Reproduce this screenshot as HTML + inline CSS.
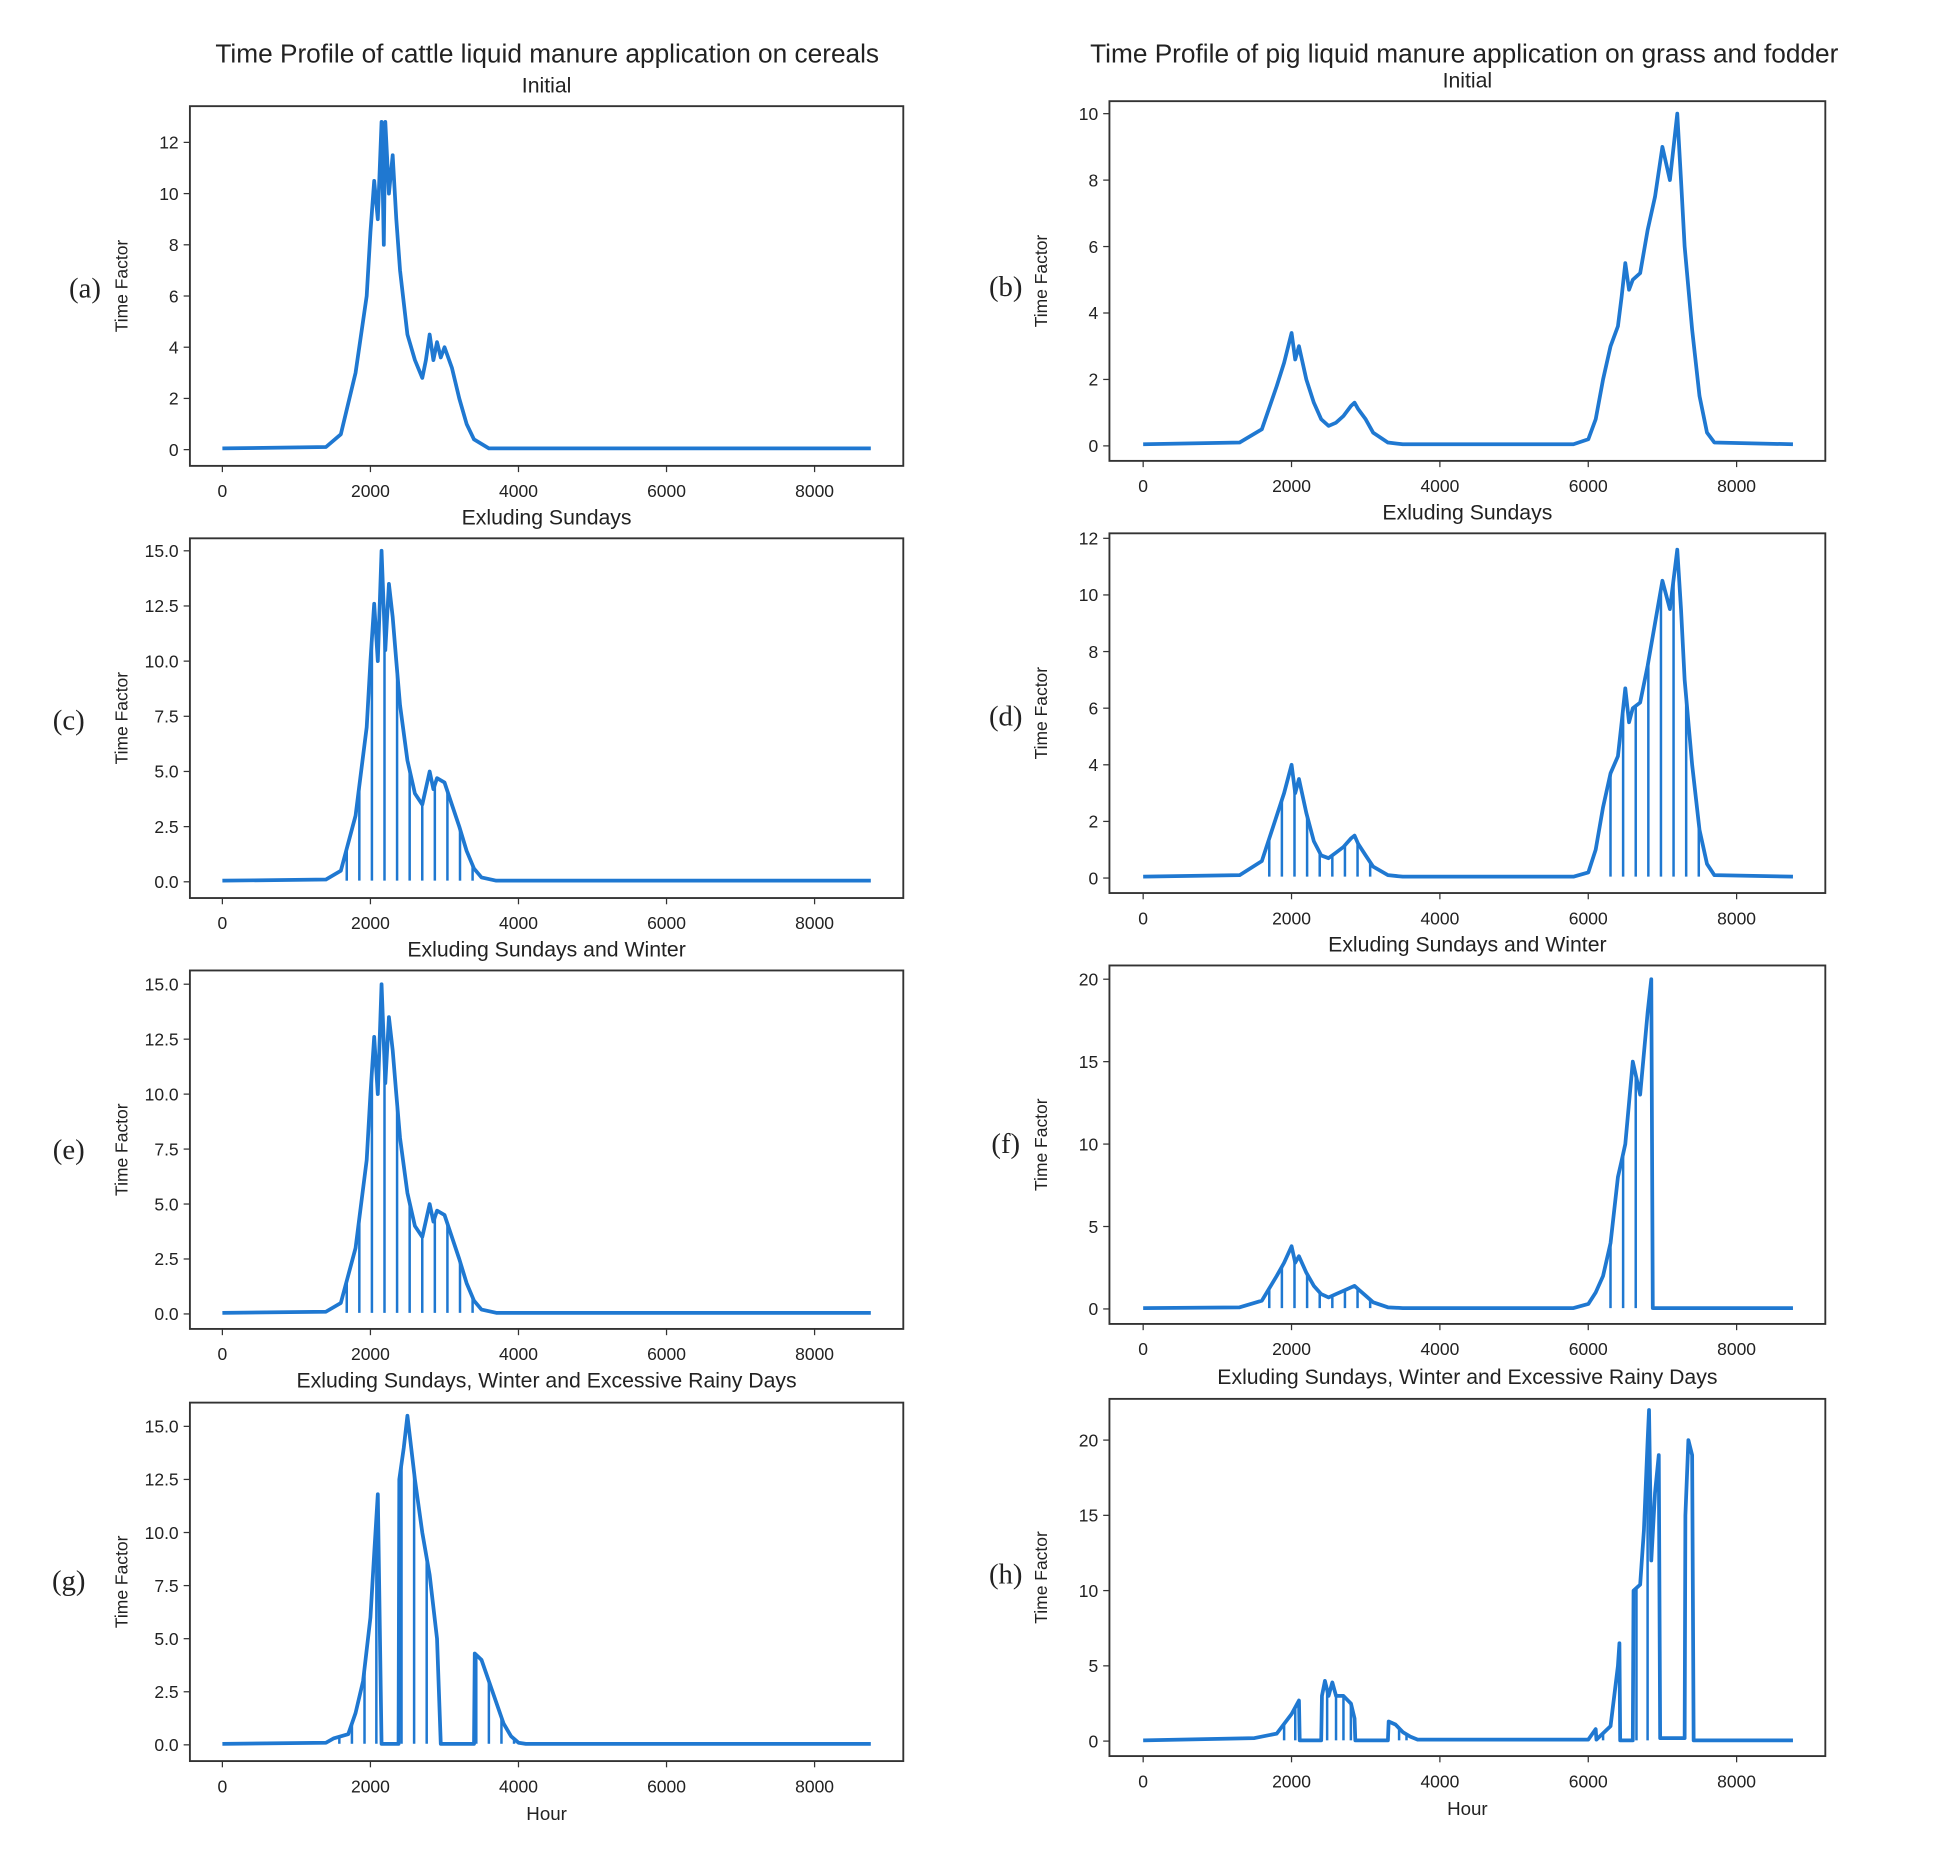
<!DOCTYPE html>
<html><head><meta charset="utf-8"><style>
html,body{margin:0;padding:0;background:#fff;}
svg{display:block;}
text{font-family:"Liberation Sans","DejaVu Sans",sans-serif;fill:#222;}
</style></head><body>
<svg id="fig" width="1959" height="1861" viewBox="0 0 1568 1490" preserveAspectRatio="none" xmlns="http://www.w3.org/2000/svg">
<rect x="0" y="0" width="1568" height="1490" fill="#fff"/>
<text x="438" y="50" text-anchor="middle" font-size="21">Time Profile of cattle liquid manure application on cereals</text>
<text x="1172" y="50" text-anchor="middle" font-size="21">Time Profile of pig liquid manure application on grass and fodder</text>
</svg>
<script>
// ---- data (hour, value) ----
const xTickValues = [0, 2000, 4000, 6000, 8000];
const hoursA = [0,1400,1600,1800,1950,2000,2050,2100,2150,2180,2200,2250,2300,2350,2400,2500,2600,2700,2750,2800,2850,2900,2950,3000,3100,3200,3300,3400,3600,8760];
const valsA  = [0.05,0.1,0.6,3,6,8.5,10.5,9,12.8,8,12.8,10,11.5,9,7,4.5,3.5,2.8,3.5,4.5,3.5,4.2,3.6,4,3.2,2,1,0.4,0.05,0.05];
const hoursC = [0,1400,1600,1800,1950,2000,2050,2100,2150,2200,2250,2300,2350,2400,2500,2600,2700,2800,2850,2900,3000,3100,3200,3300,3400,3500,3700,8760];
const valsC  = [0.05,0.1,0.5,3,7,10,12.6,10,15,10.5,13.5,12,10,8,5.5,4,3.5,5,4.2,4.7,4.5,3.5,2.5,1.4,0.6,0.2,0.05,0.05];
const dropsC = [1680,1850,2020,2190,2360,2530,2700,2870,3040,3210,3380];
const valsE  = [0.05,0.1,0.5,3,7,10,12.6,10,15,10.5,13.5,12,10,8,5.5,4,3.5,5,4.2,4.7,4.5,3.5,2.5,1.4,0.6,0.2,0.05,0.05];
const dropsE = [1680,1850,2020,2190,2360,2530,2700,2870,3040,3210,3380];
const hoursG = [0,1400,1500,1700,1800,1900,2000,2050,2100,2150,2380,2390,2450,2500,2550,2600,2700,2800,2900,2950,3400,3410,3500,3600,3700,3800,3900,4000,4100,8760];
const valsG  = [0.05,0.1,0.3,0.5,1.5,3,6,9,11.8,0.05,0.05,12.5,14,15.5,14,12.5,10,8,5,0.05,0.05,4.3,4,3,2,1,0.4,0.1,0.05,0.05];
const dropsG = [1580,1750,1920,2080,2420,2590,2760,3430,3600,3770,3940];
const hoursB = [0,1300,1600,1800,1900,2000,2050,2100,2200,2300,2400,2500,2600,2700,2800,2850,2900,3000,3100,3300,3500,5800,6000,6100,6200,6300,6400,6450,6500,6550,6600,6700,6800,6900,7000,7100,7200,7250,7300,7400,7500,7600,7700,8760];
const valsB  = [0.05,0.1,0.5,1.8,2.5,3.4,2.6,3,2,1.3,0.8,0.6,0.7,0.9,1.2,1.3,1.1,0.8,0.4,0.1,0.05,0.05,0.2,0.8,2,3,3.6,4.5,5.5,4.7,5,5.2,6.5,7.5,9,8,10,8,6,3.5,1.5,0.4,0.1,0.05];
const valsD  = [0.05,0.1,0.6,2.2,3,4,3,3.5,2.3,1.3,0.8,0.7,0.9,1.1,1.4,1.5,1.2,0.8,0.4,0.1,0.05,0.05,0.2,1,2.5,3.7,4.3,5.5,6.7,5.5,6,6.2,7.5,9,10.5,9.5,11.6,9.5,7,4,1.7,0.5,0.1,0.05];
const dropsD = [1700,1870,2040,2210,2380,2550,2720,2890,3060,6300,6470,6640,6810,6980,7150,7320,7490];
const hoursF = [0,1300,1600,1800,1900,2000,2050,2100,2200,2300,2400,2500,2600,2700,2800,2850,2900,3000,3100,3300,3500,5800,6000,6100,6200,6300,6400,6450,6500,6600,6700,6800,6850,6870,8760];
const valsF  = [0.05,0.1,0.5,2,2.8,3.8,2.8,3.2,2.2,1.4,0.9,0.7,0.9,1.1,1.3,1.4,1.2,0.8,0.4,0.1,0.05,0.05,0.3,1,2,4,8,9,10,15,13,18,20,0.05,0.05];
const dropsF = [1700,1870,2040,2210,2380,2550,2720,2890,3060,6300,6470,6640];
const hoursH = [0,1500,1800,2000,2100,2110,2400,2410,2450,2500,2550,2600,2700,2800,2850,2860,3300,3310,3400,3500,3600,3700,6000,6100,6110,6300,6400,6420,6430,6600,6610,6700,6750,6800,6820,6850,6900,6950,6970,7300,7310,7350,7400,7420,8760];
const valsH  = [0.05,0.2,0.5,1.8,2.7,0.05,0.05,3,4,3,3.9,3,3,2.5,1.5,0.05,0.05,1.3,1.1,0.6,0.3,0.1,0.1,0.8,0.1,1,5,6.5,0.05,0.05,10,10.4,14,20,22,12,16.5,19,0.2,0.2,15,20,19,0.05,0.05];
const dropsH = [1900,2050,2480,2600,2700,2800,3450,3550,6200,6650,6800];
const yTicksA = [0,2,4,6,8,10,12];
const yTicksCEG = [0,2.5,5,7.5,10,12.5,15];
const yTicksB = [0,2,4,6,8,10];
const yTicksD = [0,2,4,6,8,10,12];
const yTicksFH = [0,5,10,15,20];

const svg = document.getElementById('fig');
const NS = 'http://www.w3.org/2000/svg';
function mk(tag, attrs){ const e=document.createElementNS(NS,tag); for(const k in attrs) e.setAttribute(k,attrs[k]); svg.appendChild(e); return e; }

const panels = [
 {id:'a', title:'Initial', hours:hoursA, vals:valsA, drops:[], yt:yTicksA, dec:0, L:152,R:723,T:85,B:373, x0:178, x8:652, y0:360, yv:12, yp:114, tY:68, lx:68, ly:238},
 {id:'c', title:'Exluding Sundays', hours:hoursC, vals:valsC, drops:dropsC, yt:yTicksCEG, dec:1, L:152,R:723,T:431,B:719, x0:178, x8:652, y0:706, yv:15, yp:441, tY:414, lx:55, ly:584},
 {id:'e', title:'Exluding Sundays and Winter', hours:hoursC, vals:valsE, drops:dropsE, yt:yTicksCEG, dec:1, L:152,R:723,T:777,B:1064, x0:178, x8:652, y0:1052, yv:15, yp:788, tY:760, lx:55, ly:928},
 {id:'g', title:'Exluding Sundays, Winter and Excessive Rainy Days', hours:hoursG, vals:valsG, drops:dropsG, yt:yTicksCEG, dec:1, L:152,R:723,T:1123,B:1410, x0:178, x8:652, y0:1397, yv:15, yp:1142, tY:1105, lx:55, ly:1273, xlabel:true},
 {id:'b', title:'Initial', hours:hoursB, vals:valsB, drops:[], yt:yTicksB, dec:0, L:888,R:1461,T:81,B:369, x0:915, x8:1390, y0:357, yv:10, yp:91, tY:64, lx:805, ly:237},
 {id:'d', title:'Exluding Sundays', hours:hoursB, vals:valsD, drops:dropsD, yt:yTicksD, dec:0, L:888,R:1461,T:427,B:715, x0:915, x8:1390, y0:703, yv:12, yp:431, tY:410, lx:805, ly:581},
 {id:'f', title:'Exluding Sundays and Winter', hours:hoursF, vals:valsF, drops:dropsF, yt:yTicksFH, dec:0, L:888,R:1461,T:773,B:1060, x0:915, x8:1390, y0:1048, yv:20, yp:784, tY:756, lx:805, ly:923},
 {id:'h', title:'Exluding Sundays, Winter and Excessive Rainy Days', hours:hoursH, vals:valsH, drops:dropsH, yt:yTicksFH, dec:0, L:888,R:1461,T:1120,B:1406, x0:915, x8:1390, y0:1394, yv:20, yp:1153, tY:1102, lx:805, ly:1268, xlabel:true}
];

panels.forEach(p=>{
  const sx = h => p.x0 + (h/8000)*(p.x8-p.x0);
  const sy = v => p.y0 - (v/p.yv)*(p.y0-p.yp);
  const valAt = h => { const H=p.hours,V=p.vals; for(let i=1;i<H.length;i++){ if(h<=H[i]){ const t=(h-H[i-1])/(H[i]-H[i-1]); return V[i-1]+t*(V[i]-V[i-1]); } } return V[V.length-1]; };
  let e;
  e = mk('rect',{x:p.L,y:p.T,width:p.R-p.L,height:p.B-p.T,fill:'#fff',stroke:'#333','stroke-width':1.5});
  
  
  e = mk('text',{x:(p.L+p.R)/2,y:p.tY+6,'text-anchor':'middle','font-size':17});
  e.textContent=p.title;
  
  
  e = mk('text',{x:p.lx,y:p.ly,'text-anchor':'middle','font-size':23,style:'font-family:"Liberation Serif",serif'});
  e.textContent='('+p.id+')';
  
  
  e = mk('text',{x:0,y:0,'text-anchor':'middle','font-size':14,transform:'translate('+(p.L-50)+','+((p.T+p.B)/2)+') rotate(-90)'});
  e.textContent='Time Factor';
  
  
  xTickValues.forEach(v=>{
    const x=sx(v);
    e = mk('line',{x1:x,y1:p.B,x2:x,y2:p.B+5,stroke:'#333','stroke-width':1});
    
    
    e = mk('text',{x:x,y:p.B+25,'text-anchor':'middle','font-size':14});
    e.textContent=String(v);
    
    
  });
  p.yt.forEach(v=>{
    const y=sy(v);
    e = mk('line',{x1:p.L-5,y1:y,x2:p.L,y2:y,stroke:'#333','stroke-width':1});
    
    
    e = mk('text',{x:p.L-9,y:y+5,'text-anchor':'end','font-size':14});
    e.textContent=v.toFixed(p.dec);
    
    
  });
  if(p.xlabel){
    e = mk('text',{x:(p.L+p.R)/2,y:p.B+47,'text-anchor':'middle','font-size':15});
    e.textContent='Hour';
    
    
  }
  p.drops.forEach(h=>{
    const x=sx(h);
    e = mk('line',{x1:x,y1:sy(0.05),x2:x,y2:sy(valAt(h)),stroke:'#1f78d1','stroke-width':2});
    
    
  });
  const d = p.hours.map((h,i)=>(i?'L':'M')+sx(h).toFixed(1)+' '+sy(p.vals[i]).toFixed(1)).join(' ');
  e = mk('path',{d:d,fill:'none',stroke:'#1f78d1','stroke-width':3,'stroke-linejoin':'round'});
  
  
});
</script>
</body></html>
